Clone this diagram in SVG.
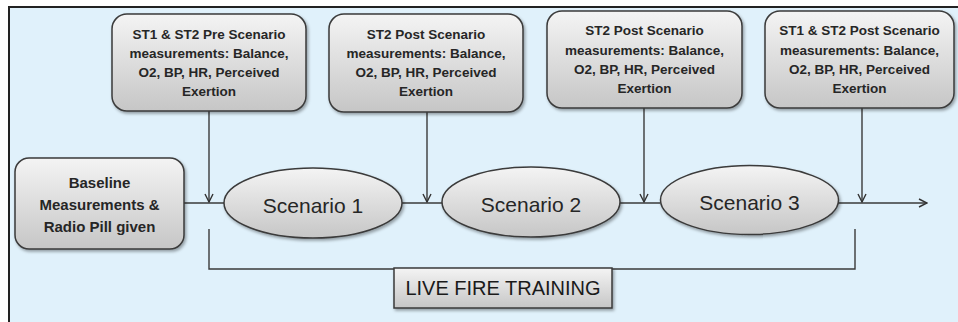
<svg xmlns="http://www.w3.org/2000/svg" width="958" height="322" viewBox="0 0 958 322">
<defs>
  <linearGradient id="gGray" x1="0" y1="0" x2="0" y2="1">
    <stop offset="0" stop-color="#f4f4f4"/>
    <stop offset="1" stop-color="#c6c6c6"/>
  </linearGradient>
  <filter id="shadow" x="-10%" y="-10%" width="125%" height="130%">
    <feDropShadow dx="1.5" dy="2" stdDeviation="1.8" flood-color="#000" flood-opacity="0.35"/>
  </filter>
  <marker id="arrow" viewBox="0 0 10 10" refX="9" refY="5" markerWidth="10" markerHeight="10" markerUnits="userSpaceOnUse" orient="auto">
    <path d="M1,1 L9,5 L1,9" fill="none" stroke="#333" stroke-width="1.4"/>
  </marker>
  <style>
    .box { fill: url(#gGray); stroke: #3a3a3a; stroke-width: 1.5; filter: url(#shadow); }
    .btxt { font-family: "Liberation Sans", Arial, sans-serif; font-weight: bold; font-size: 13.5px; fill: #262626; text-anchor: middle; }
    .base { font-size: 15px; }
    .stxt { font-family: "Liberation Sans", Arial, sans-serif; font-size: 21px; fill: #262626; text-anchor: middle; }
    .ltxt { font-family: "Liberation Sans", Arial, sans-serif; font-size: 20px; fill: #1a1a1a; text-anchor: middle; }
    .conn { fill: none; stroke: #3a3a3a; stroke-width: 1.4; }
  </style>
</defs>

<rect x="9" y="7" width="960" height="330" fill="#e0f1fb" stroke="#222" stroke-width="2"/>

<g id="connectors">
  <path class="conn" d="M209,111 V202" marker-end="url(#arrow)"/>
  <path class="conn" d="M427,112 V202" marker-end="url(#arrow)"/>
  <path class="conn" d="M644,108 V202" marker-end="url(#arrow)"/>
  <path class="conn" d="M862,108 V202" marker-end="url(#arrow)"/>
  <path class="conn" d="M184,203 H224"/>
  <path class="conn" d="M402,203 H442"/>
  <path class="conn" d="M620,203 H660"/>
  <path class="conn" d="M838,203 H927" marker-end="url(#arrow)"/>
  <path class="conn" d="M209,229 V269 H855 V229"/>
</g>

<g id="pre1">
  <rect class="box" x="112" y="14" width="194" height="97" rx="15"/>
  <text class="btxt" x="209" y="38.5">ST1 &amp; ST2 Pre Scenario</text>
  <text class="btxt" x="209" y="58">measurements: Balance,</text>
  <text class="btxt" x="209" y="77">O2, BP, HR, Perceived</text>
  <text class="btxt" x="209" y="96">Exertion</text>
</g>

<g id="post1">
  <rect class="box" x="329" y="14" width="194" height="98" rx="15"/>
  <text class="btxt" x="426" y="38.5">ST2 Post Scenario</text>
  <text class="btxt" x="426" y="58">measurements: Balance,</text>
  <text class="btxt" x="426" y="77">O2, BP, HR, Perceived</text>
  <text class="btxt" x="426" y="96">Exertion</text>
</g>

<g id="post2">
  <rect class="box" x="547" y="11" width="195" height="97" rx="15"/>
  <text class="btxt" x="644.5" y="35">ST2 Post Scenario</text>
  <text class="btxt" x="644.5" y="54.5">measurements: Balance,</text>
  <text class="btxt" x="644.5" y="73.5">O2, BP, HR, Perceived</text>
  <text class="btxt" x="644.5" y="92.5">Exertion</text>
</g>

<g id="post3">
  <rect class="box" x="765" y="11" width="189" height="97" rx="15"/>
  <text class="btxt" x="859.5" y="35">ST1 &amp; ST2 Post Scenario</text>
  <text class="btxt" x="859.5" y="54.5">measurements: Balance,</text>
  <text class="btxt" x="859.5" y="73.5">O2, BP, HR, Perceived</text>
  <text class="btxt" x="859.5" y="92.5">Exertion</text>
</g>

<g id="baseline">
  <rect class="box" x="15" y="158" width="169" height="91" rx="14"/>
  <text class="btxt base" x="99.5" y="188">Baseline</text>
  <text class="btxt base" x="99.5" y="210">Measurements &amp;</text>
  <text class="btxt base" x="99.5" y="232">Radio Pill given</text>
</g>

<g id="scenario1">
  <ellipse class="box" cx="313" cy="203" rx="89" ry="35"/>
  <text class="stxt" x="313" y="213">Scenario 1</text>
</g>

<g id="scenario2">
  <ellipse class="box" cx="531" cy="202" rx="89" ry="35"/>
  <text class="stxt" x="531" y="212">Scenario 2</text>
</g>

<g id="scenario3">
  <ellipse class="box" cx="749.5" cy="200" rx="89" ry="34.5"/>
  <text class="stxt" x="749.5" y="210">Scenario 3</text>
</g>

<g id="livefire">
  <rect class="box" x="394" y="268" width="218" height="40" rx="0"/>
  <text class="ltxt" x="503" y="295">LIVE FIRE TRAINING</text>
</g>
</svg>
